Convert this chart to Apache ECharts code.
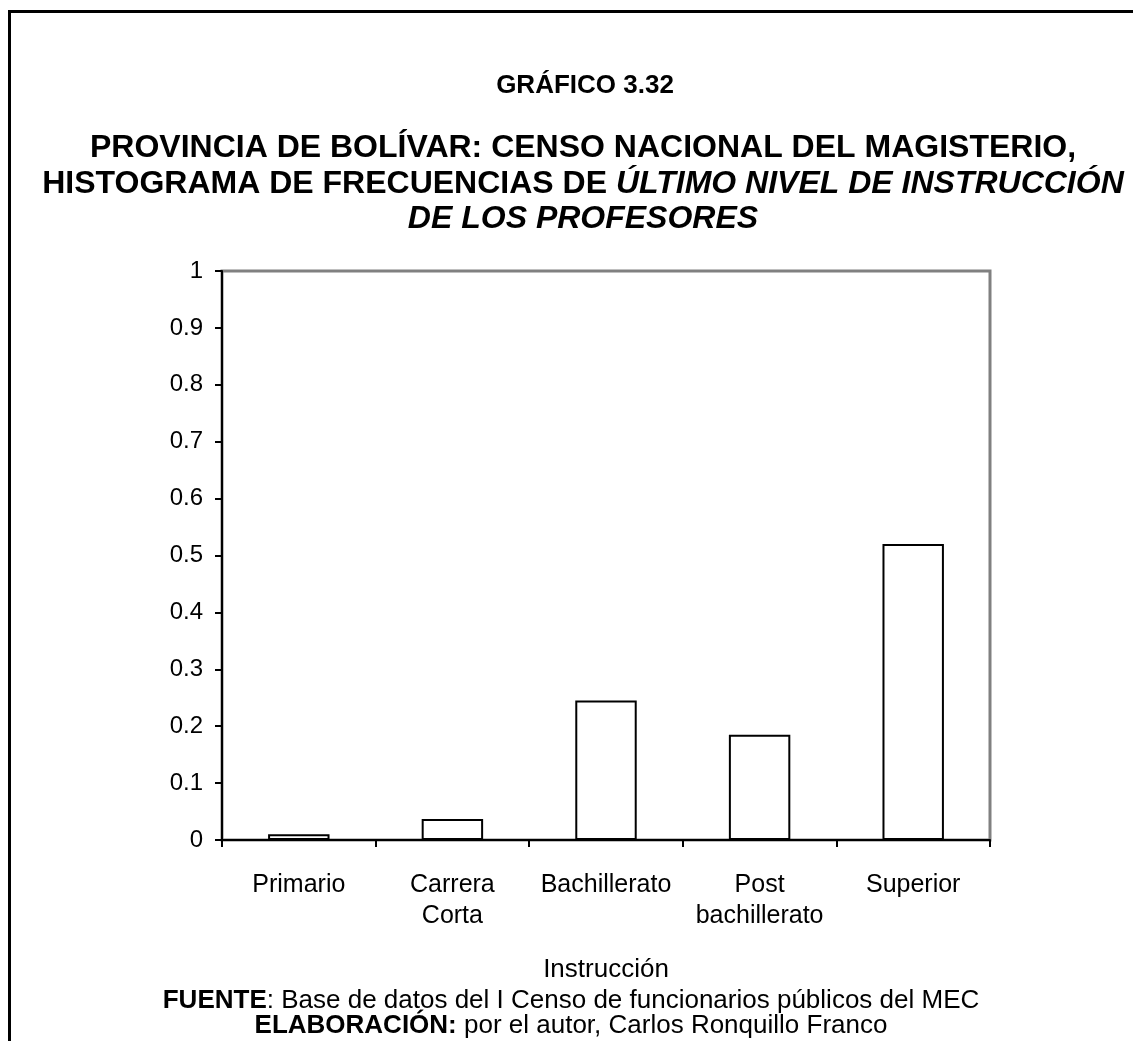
<!DOCTYPE html>
<html>
<head>
<meta charset="utf-8">
<script src="https://cdn.jsdelivr.net/npm/echarts@6/dist/echarts.min.js"></script>
<style>
html,body{margin:0;padding:0;background:#fff;}
#c{width:1133px;height:1041px;}
</style>
</head>
<body>
<div id="c"></div>
<script>
const categories = ['Primario', 'Carrera\nCorta', 'Bachillerato', 'Post\nbachillerato', 'Superior'];
const frecuencias = [0.010, 0.037, 0.245, 0.185, 0.520];
const yTicks = { min: 0, max: 1, interval: 0.1 };

const FONT = '"Liberation Sans", Arial, sans-serif';
const chart = echarts.init(document.getElementById('c'), null, { renderer: 'canvas' });

const TS = 32;
const FS = 26;
chart.setOption({
  backgroundColor: '#ffffff',
  animation: false,
  textStyle: { fontFamily: FONT, color: '#000' },
  title: [
    { text: 'GRÁFICO 3.32', left: 580, textAlign: 'center', top: 68,
      textStyle: { fontFamily: FONT, fontWeight: 'bold', fontSize: 26, color: '#000' } },
    { text: 'PROVINCIA DE BOLÍVAR: CENSO NACIONAL DEL MAGISTERIO,', left: 578, textAlign: 'center', top: 127,
      textStyle: { fontFamily: FONT, fontWeight: 'bold', fontSize: TS, color: '#000' } },
    { text: '{a|HISTOGRAMA DE FRECUENCIAS DE }{b|ÚLTIMO NIVEL DE INSTRUCCIÓN}', left: 578, textAlign: 'center', top: 163,
      textStyle: { fontFamily: FONT, fontSize: TS, color: '#000',
        rich: {
          a: { fontFamily: FONT, fontWeight: 'bold', fontSize: TS, color: '#000' },
          b: { fontFamily: FONT, fontWeight: 'bold', fontStyle: 'italic', fontSize: TS, color: '#000' }
        } } },
    { text: 'DE LOS PROFESORES', left: 578, textAlign: 'center', top: 198,
      textStyle: { fontFamily: FONT, fontWeight: 'bold', fontStyle: 'italic', fontSize: TS, color: '#000' } },
    { text: '{a|FUENTE}{b|: Base de datos del I Censo de funcionarios públicos del MEC}', left: 566, textAlign: 'center', top: 983,
      textStyle: { fontFamily: FONT, fontSize: FS, color: '#000',
        rich: {
          a: { fontFamily: FONT, fontWeight: 'bold', fontSize: FS, color: '#000' },
          b: { fontFamily: FONT, fontWeight: 'normal', fontSize: FS, color: '#000' }
        } } },
    { text: '{a|ELABORACIÓN:}{b| por el autor, Carlos Ronquillo Franco}', left: 566, textAlign: 'center', top: 1008,
      textStyle: { fontFamily: FONT, fontSize: FS, color: '#000',
        rich: {
          a: { fontFamily: FONT, fontWeight: 'bold', fontSize: FS, color: '#000' },
          b: { fontFamily: FONT, fontWeight: 'normal', fontSize: FS, color: '#000' }
        } } }
  ],
  graphic: [
    { type: 'line', shape: { x1: 8, y1: 11.5, x2: 1133, y2: 11.5 }, style: { stroke: '#000', lineWidth: 3 } },
    { type: 'line', shape: { x1: 9.5, y1: 10, x2: 9.5, y2: 1041 }, style: { stroke: '#000', lineWidth: 3 } }
  ],
  grid: { left: 222, right: 143, top: 271, bottom: 201, show: true, borderColor: '#808080', borderWidth: 3, backgroundColor: 'transparent' },
  xAxis: {
    type: 'category',
    data: categories,
    boundaryGap: true,
    name: 'Instrucción',
    nameLocation: 'middle',
    nameGap: 117,
    nameTextStyle: { fontFamily: FONT, fontSize: 26, color: '#000' },
    axisLine: { show: true, lineStyle: { color: '#000', width: 2 } },
    axisTick: { show: true, inside: false, length: 7, lineStyle: { color: '#000', width: 2 } },
    axisLabel: { fontFamily: FONT, fontSize: 25, color: '#000', margin: 30, lineHeight: 31, interval: 0 },
    splitLine: { show: false }
  },
  yAxis: {
    type: 'value',
    min: yTicks.min,
    max: yTicks.max,
    interval: yTicks.interval,
    axisLine: { show: true, lineStyle: { color: '#000', width: 2 } },
    axisTick: { show: true, inside: false, length: 7, lineStyle: { color: '#000', width: 2 } },
    axisLabel: { fontFamily: FONT, fontSize: 24, color: '#000', margin: 19,
      formatter: v => String(Math.round(v * 10) / 10) },
    splitLine: { show: false }
  },
  series: [{
    type: 'bar',
    data: frecuencias,
    barWidth: '40%',
    itemStyle: { color: '#ffffff', borderColor: '#000', borderWidth: 2 },
    z: 3
  }]
});
</script>
</body>
</html>
